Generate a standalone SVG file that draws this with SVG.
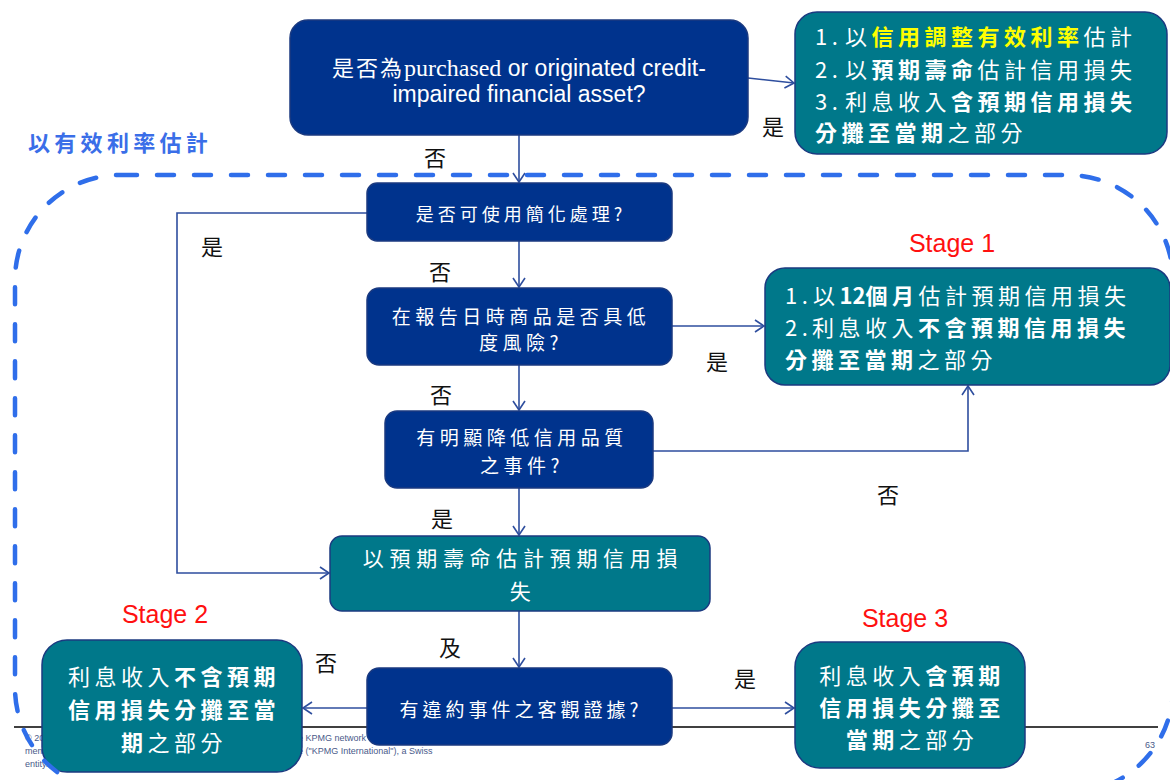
<svg xmlns="http://www.w3.org/2000/svg" width="1170" height="780" viewBox="0 0 1170 780">
<style>
.nav{fill:#00338D;stroke:#1B3A80;stroke-width:1.5}
.teal{fill:#00788A;stroke:#1B3A80;stroke-width:1.5}
.cjk{font-family:"Noto Sans CJK TC","Noto Sans CJK SC",sans-serif}
.w{fill:#FFFFFF}
.s{font-size:19px;letter-spacing:4.5px}
.m{font-size:22px;letter-spacing:4.5px}
.b{font-weight:700}
.y{fill:#FFFF00;font-weight:700}
.lbl{font-family:"Noto Sans CJK TC","Noto Sans CJK SC",sans-serif;font-size:22px;fill:#111111}
.stage{font-family:"Liberation Sans",Arial,sans-serif;font-size:25px;fill:#FF1010}
.foot{font-family:"Liberation Sans",Arial,sans-serif;font-size:9px;fill:#4A5A8A}
.con{fill:none;stroke:#2E4E9E;stroke-width:1.6}
</style>
<defs>
<marker id="arr" markerUnits="userSpaceOnUse" markerWidth="12" markerHeight="14" refX="10" refY="7" orient="auto">
<path d="M1,1 L10,7 L1,13" fill="none" stroke="#2E4E9E" stroke-width="1.6"/>
</marker>
</defs>
<rect x="0" y="0" width="1170" height="780" fill="#FFFFFF"/>

<g id="footer">
<line x1="14" y1="727" x2="1158" y2="727" stroke="#000000" stroke-width="1.5"/>
<text class="foot" x="25" y="741">© 2017 KPMG,</text>
<text class="foot" x="298" y="741">e KPMG network of independent member firms affiliated</text>
<text class="foot" x="25" y="754">member firms</text>
<text class="foot" x="298" y="754">e ("KPMG International"), a Swiss</text>
<text class="foot" x="25" y="767">entity.</text>
<text class="foot" x="1150" y="748" text-anchor="middle" font-size="10">63</text>
</g>

<g id="scope-label">
<text class="cjk b" x="28" y="151" font-size="22" letter-spacing="4.3" fill="#3A6EE8">以有效利率估計</text>
</g>

<g id="connectors">
<path class="con" d="M748,78 L794,83" marker-end="url(#arr)"/>
<path class="con" d="M519,135 V182" marker-end="url(#arr)"/>
<path class="con" d="M367,213 H177 V573 H329" marker-end="url(#arr)"/>
<path class="con" d="M519,241 V287" marker-end="url(#arr)"/>
<path class="con" d="M672,326 H764" marker-end="url(#arr)"/>
<path class="con" d="M519,365 V410" marker-end="url(#arr)"/>
<path class="con" d="M653,451 H968 V386" marker-end="url(#arr)"/>
<path class="con" d="M519,488 V535" marker-end="url(#arr)"/>
<path class="con" d="M519,611 V667" marker-end="url(#arr)"/>
<path class="con" d="M367,708 H303" marker-end="url(#arr)"/>
<path class="con" d="M672,708 H794" marker-end="url(#arr)"/>
</g>

<g id="labels">
<text class="lbl" x="773" y="135" text-anchor="middle">是</text>
<text class="lbl" x="435" y="166" text-anchor="middle">否</text>
<text class="lbl" x="212" y="255" text-anchor="middle">是</text>
<text class="lbl" x="440" y="280" text-anchor="middle">否</text>
<text class="lbl" x="717" y="370" text-anchor="middle">是</text>
<text class="lbl" x="441" y="403" text-anchor="middle">否</text>
<text class="lbl" x="888" y="503" text-anchor="middle">否</text>
<text class="lbl" x="442" y="527" text-anchor="middle">是</text>
<text class="lbl" x="450" y="656" text-anchor="middle">及</text>
<text class="lbl" x="326" y="671" text-anchor="middle">否</text>
<text class="lbl" x="745" y="687" text-anchor="middle">是</text>
</g>

<g id="q-poci">
<rect class="nav" x="290" y="20" width="458" height="115" rx="18"/>
<text class="w" x="519" y="76" text-anchor="middle" font-family="Liberation Sans, Arial, sans-serif" font-size="23"><tspan class="cjk" font-size="22" letter-spacing="2">是否為</tspan><tspan font-family="Liberation Serif, serif" font-size="24">purchased</tspan> or originated credit-</text>
<text class="w" x="519" y="102" text-anchor="middle" font-family="Liberation Sans, Arial, sans-serif" font-size="23">impaired financial asset?</text>
</g>

<g id="poci-result">
<rect class="teal" x="795" y="12" width="372" height="142" rx="22"/>
<text class="cjk w m" x="815" y="45" letter-spacing="4"><tspan>1.</tspan><tspan x="845">以</tspan><tspan class="y">信用調整有效利率</tspan>估計</text>
<text class="cjk w m" x="815" y="78" letter-spacing="4"><tspan>2.</tspan><tspan x="845">以</tspan><tspan class="b">預期壽命</tspan>估計信用損失</text>
<text class="cjk w m" x="815" y="110" letter-spacing="4"><tspan>3.</tspan><tspan x="845">利息收入</tspan><tspan class="b">含預期信用損失</tspan></text>
<text class="cjk w m" x="815" y="141" letter-spacing="4"><tspan class="b">分攤至當期</tspan>之部分</text>
</g>

<g id="q-simplified">
<rect class="nav" x="367" y="183" width="305" height="58" rx="10"/>
<text class="cjk w" x="521" y="221" text-anchor="middle" font-size="18" letter-spacing="4">是否可使用簡化處理?</text>
</g>

<g id="q-lowrisk">
<rect class="nav" x="367" y="288" width="305" height="77" rx="12"/>
<text class="cjk w s" x="521" y="324" text-anchor="middle">在報告日時商品是否具低</text>
<text class="cjk w s" x="521" y="350" text-anchor="middle">度風險?</text>
</g>

<g id="q-significant">
<rect class="nav" x="385" y="411" width="268" height="77" rx="12"/>
<text class="cjk w s" x="522" y="445" text-anchor="middle" letter-spacing="5">有明顯降低信用品質</text>
<text class="cjk w s" x="522" y="473" text-anchor="middle" letter-spacing="5">之事件?</text>
</g>

<g id="stage1">
<text class="stage" x="952" y="252" text-anchor="middle">Stage 1</text>
<rect class="teal" x="765" y="268" width="405" height="117" rx="20"/>
<text class="cjk w m" x="785" y="304" letter-spacing="4.7"><tspan>1.</tspan><tspan x="813">以</tspan><tspan class="b" letter-spacing="0">12</tspan><tspan class="b">個月</tspan>估計預期信用損失</text>
<text class="cjk w m" x="785" y="336" letter-spacing="4.7"><tspan>2.</tspan><tspan x="812">利息收入</tspan><tspan class="b">不含預期信用損失</tspan></text>
<text class="cjk w m" x="785" y="368" letter-spacing="4.7"><tspan class="b">分攤至當期</tspan>之部分</text>
</g>

<g id="lifetime">
<rect class="teal" x="330" y="536" width="380" height="75" rx="12"/>
<text class="cjk w" x="523" y="566" text-anchor="middle" font-size="21" letter-spacing="5.7">以預期壽命估計預期信用損</text>
<text class="cjk w" x="523" y="599" text-anchor="middle" font-size="21" letter-spacing="5.7">失</text>
</g>

<g id="q-default">
<rect class="nav" x="367" y="668" width="305" height="77" rx="12"/>
<text class="cjk w" x="521" y="717" text-anchor="middle" font-size="19" letter-spacing="4">有違約事件之客觀證據?</text>
</g>

<g id="stage2">
<text class="stage" x="165" y="623" text-anchor="middle">Stage 2</text>
<rect class="teal" x="42" y="640" width="260" height="132" rx="25"/>
<text class="cjk w m" x="174" y="685" text-anchor="middle" letter-spacing="4.7">利息收入<tspan class="b">不含預期</tspan></text>
<text class="cjk w m" x="174" y="718" text-anchor="middle" letter-spacing="4.7"><tspan class="b">信用損失分攤至當</tspan></text>
<text class="cjk w m" x="174" y="751" text-anchor="middle" letter-spacing="4.7"><tspan class="b">期</tspan>之部分</text>
</g>

<g id="stage3">
<text class="stage" x="905" y="627" text-anchor="middle">Stage 3</text>
<rect class="teal" x="795" y="642" width="230" height="126" rx="25"/>
<text class="cjk w m" x="912" y="684" text-anchor="middle" letter-spacing="4">利息收入<tspan class="b">含預期</tspan></text>
<text class="cjk w m" x="912" y="716" text-anchor="middle" letter-spacing="4"><tspan class="b">信用損失分攤至</tspan></text>
<text class="cjk w m" x="912" y="748" text-anchor="middle" letter-spacing="4"><tspan class="b">當期</tspan>之部分</text>
</g>

<g id="scope">
<rect x="15" y="175" width="1158" height="618" rx="105" fill="none" stroke="#2F6EEA" stroke-width="4.5" stroke-dasharray="17 20" stroke-linecap="round"/>
</g>
</svg>
